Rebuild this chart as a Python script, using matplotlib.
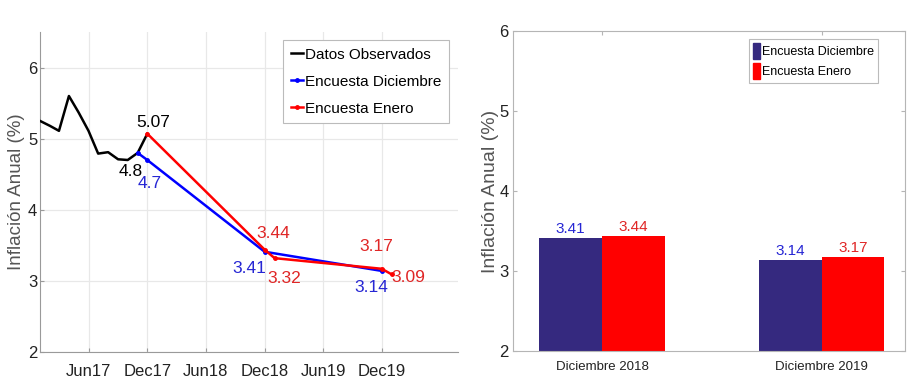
import numpy as np
import pandas as pd
import matplotlib
matplotlib.use("Agg")
import matplotlib.pyplot as plt
import matplotlib.dates as mdates
import matplotlib.transforms as mtransforms
from matplotlib.patches import Patch
from matplotlib.lines import Line2D

# Observed annual inflation (%)
obs_dates = ["2017-01", "2017-02", "2017-03", "2017-04", "2017-05", "2017-06",
             "2017-07", "2017-08", "2017-09", "2017-10", "2017-11", "2017-12"]
obs_values = [5.25, 5.18, 5.11, 5.60, 5.37, 5.11, 4.79, 4.81, 4.71, 4.70, 4.80, 5.07]

# December survey
dic_dates = ["2017-11", "2017-12", "2018-12", "2019-12"]
dic_values = [4.80, 4.70, 3.41, 3.14]

# January survey
ene_dates = ["2017-12", "2018-12", "2019-01", "2019-12", "2020-01"]
ene_values = [5.07, 3.44, 3.32, 3.17, 3.09]

tick_dates = ["2017-06", "2017-12", "2018-06", "2018-12", "2019-06", "2019-12"]

# Bar panel
bar_categories = ["Diciembre 2018", "Diciembre 2019"]
bar_dic = [3.41, 3.14]
bar_ene = [3.44, 3.17]

plt.rcParams["font.family"] = ["Liberation Sans", "DejaVu Sans"]

C_BLUE = "#0000FF"
C_RED = "#FF0000"
C_BLUE_TXT = "#2626D4"
C_RED_TXT = "#E02626"
C_NAVY = "#35297F"
C_GRID = "#E8E8E8"
C_AX = "#9A9A9A"


def to_dt(vals):
    return pd.to_datetime(vals)


fig = plt.figure(figsize=(9.07, 3.92), dpi=100)

# ---------------- left panel: time series ----------------
ax1 = fig.add_axes([40 / 907, 1 - 352 / 392, 418 / 907, 320 / 392])
x_obs = to_dt(obs_dates)
x_dic = to_dt(dic_dates)
x_ene = to_dt(ene_dates)

ax1.plot(x_obs, obs_values, color="black", lw=1.8, zorder=3)
ax1.plot(x_dic, dic_values, color=C_BLUE, lw=1.8, marker=".", ms=5, zorder=3)
ax1.plot(x_ene, ene_values, color=C_RED, lw=1.8, marker=".", ms=5, zorder=4)

ax1.set_xlim(pd.Timestamp("2017-01-01"), pd.Timestamp("2020-07-25"))
ax1.set_ylim(2, 6.5)
ax1.set_yticks([2, 3, 4, 5, 6])
ax1.set_xticks(to_dt(tick_dates))
ax1.xaxis.set_major_formatter(mdates.DateFormatter("%b%y"))
ax1.grid(True, color=C_GRID, lw=0.9)
ax1.set_axisbelow(True)
for s in ["top", "right"]:
    ax1.spines[s].set_visible(False)
for s in ["left", "bottom"]:
    ax1.spines[s].set_color(C_AX)
ax1.tick_params(axis="both", direction="in", length=3, color=C_AX,
                labelsize=12, labelcolor="#222222")
ax1.tick_params(axis="x", pad=9)
ax1.tick_params(axis="y", pad=2)
ax1.set_ylabel("Inflación Anual (%)", fontsize=13.5, color="#555555")
ax1.yaxis.set_label_coords(
    25 / 907, 0.5,
    transform=mtransforms.blended_transform_factory(fig.transFigure, ax1.transAxes))

# value labels: (series dates, values, index, colour, pixel offset)
fs_lab = 12.5
annots = [
    (x_ene, ene_values, 0, "black", (6, 11)),
    (x_obs, obs_values, 10, "black", (-7, -19)),
    (x_dic, dic_values, 1, C_BLUE_TXT, (2, -24)),
    (x_ene, ene_values, 1, C_RED_TXT, (9, 16)),
    (x_dic, dic_values, 2, C_BLUE_TXT, (-15, -17)),
    (x_ene, ene_values, 2, C_RED_TXT, (10, -20)),
    (x_ene, ene_values, 3, C_RED_TXT, (-6, 22)),
    (x_dic, dic_values, 3, C_BLUE_TXT, (-11, -17)),
    (x_ene, ene_values, 4, C_RED_TXT, (16, -3)),
]
for xs, ys, i, col, off in annots:
    ax1.annotate(f"{ys[i]:g}", (xs[i], ys[i]), xytext=off, textcoords="offset pixels",
                 ha="center", va="center", fontsize=fs_lab, color=col, zorder=5)

handles = [
    Line2D([], [], color="black", lw=1.8),
    Line2D([], [], color=C_BLUE, lw=1.8, marker=".", ms=5),
    Line2D([], [], color=C_RED, lw=1.8, marker=".", ms=5),
]
leg1 = ax1.legend(handles, ["Datos Observados", "Encuesta Diciembre", "Encuesta Enero"],
                  loc="upper left", bbox_to_anchor=(283 / 907, 1 - 40 / 392),
                  bbox_transform=fig.transFigure, fontsize=11, frameon=True,
                  fancybox=False, edgecolor="#BBBBBB", framealpha=1,
                  handlelength=0.8, handletextpad=0.15, labelspacing=0.85,
                  borderpad=0.5, borderaxespad=0)
leg1.get_frame().set_linewidth(0.8)

# ---------------- right panel: bars ----------------
ax2 = fig.add_axes([513 / 907, 1 - 351 / 392, 392 / 907, 320 / 392])
xpos = np.arange(1, len(bar_categories) + 1)
bw = 0.286
b1 = ax2.bar(xpos - bw / 2, bar_dic, width=bw, color=C_NAVY, zorder=2)
b2 = ax2.bar(xpos + bw / 2, bar_ene, width=bw, color=C_RED, zorder=2)
ax2.set_xlim(0.595, 2.38)
ax2.set_ylim(2, 6)
ax2.set_yticks([2, 3, 4, 5, 6])
ax2.set_xticks(xpos)
ax2.set_xticklabels(bar_categories)
for s in ax2.spines.values():
    s.set_color("#B5B5B5")
ax2.tick_params(axis="both", direction="in", length=3, color="#B5B5B5",
                labelsize=12, labelcolor="#222222", top=True, right=True)
ax2.tick_params(axis="x", labelsize=9.5, pad=7)
ax2.tick_params(axis="y", pad=3)
ax2.set_ylabel("Inflación Anual (%)", fontsize=14, color="#555555")
ax2.yaxis.set_label_coords(-14 / 392, 0.5)

for rects, vals, col in [(b1, bar_dic, C_BLUE_TXT), (b2, bar_ene, C_RED_TXT)]:
    for r, v in zip(rects, vals):
        ax2.annotate(f"{v:.2f}", (r.get_x() + r.get_width() / 2, v), xytext=(0, 2),
                     textcoords="offset pixels", ha="center", va="bottom",
                     fontsize=11, color=col)

leg2 = ax2.legend([Patch(color=C_NAVY), Patch(color=C_RED)],
                  ["Encuesta Diciembre", "Encuesta Enero"],
                  loc="upper left", bbox_to_anchor=(749 / 907, 1 - 39 / 392),
                  bbox_transform=fig.transFigure, fontsize=9, frameon=True,
                  fancybox=False, edgecolor="#BBBBBB", framealpha=1,
                  handlelength=0.6, handleheight=1.6, handletextpad=0.15,
                  labelspacing=0.35, borderpad=0.3, borderaxespad=0)
leg2.get_frame().set_linewidth(0.8)

fig.savefig("out.png", dpi=100)
